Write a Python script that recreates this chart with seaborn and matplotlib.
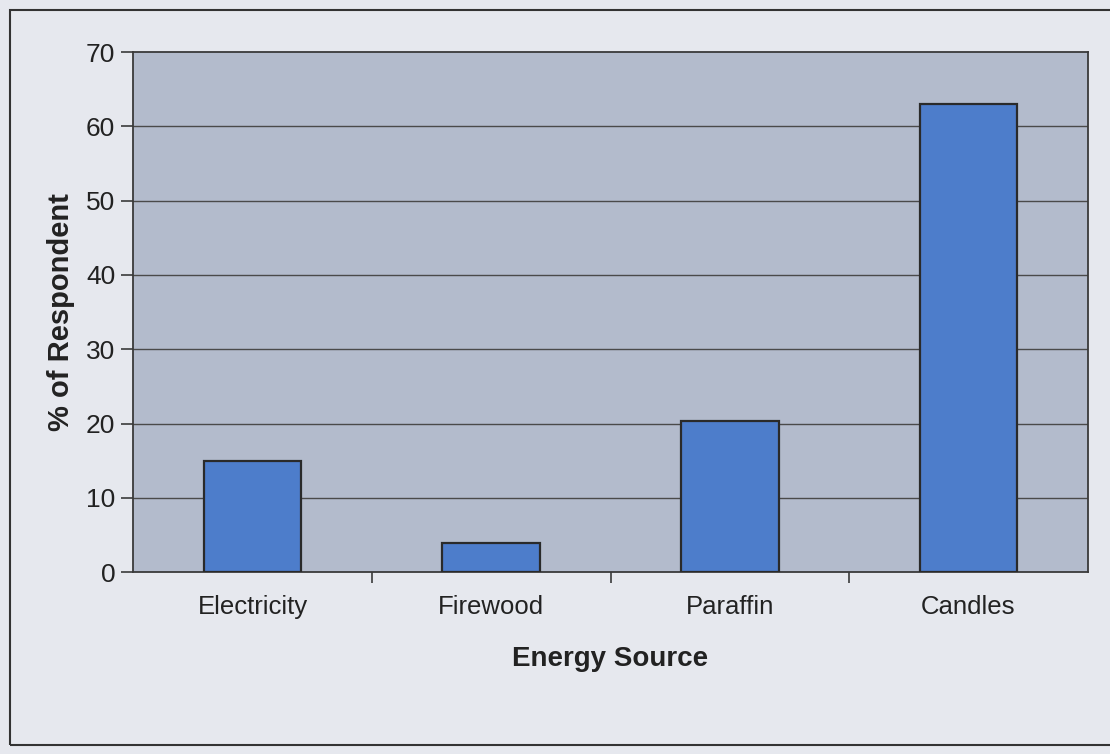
import numpy as np
import pandas as pd
import seaborn as sns
import matplotlib.pyplot as plt
from matplotlib.patches import Rectangle

# valores
fontes = ['Electricity', 'Firewood', 'Paraffin', 'Candles']
percentual = [15.0, 4.0, 20.3, 63.0]
ticks_y = [0, 10, 20, 30, 40, 50, 60, 70]

df = pd.DataFrame({'fonte': fontes, 'perc': percentual})

sns.set_style('white')
plt.rcParams['font.family'] = ['Liberation Sans', 'DejaVu Sans']

fig = plt.figure(figsize=(11.1, 7.54), dpi=100)
fig.patch.set_facecolor('#e6e8ee')
ax = fig.add_axes([0.12, 0.241, 0.86, 0.69])
ax.set_facecolor('#b3bbcc')

sns.barplot(x='fonte', y='perc', data=df, color='#4d7dcb', saturation=1,
            width=0.41, edgecolor='#2a2a2a', linewidth=1.6, zorder=3, ax=ax)

ax.set_ylim(0, 70)
ax.set_yticks(ticks_y)
ax.set_xlim(-0.5, 3.5)
for v in ticks_y[1:-1]:
    ax.axhline(v, color='#4a4a4a', lw=1.0, zorder=1)

for s in ax.spines.values():
    s.set_color('#3a3a3a')
    s.set_linewidth(1.3)

ax.tick_params(axis='y', direction='out', length=9, width=1.2, color='#3a3a3a',
               labelsize=19, labelcolor='#222222', pad=4, left=True)
ax.tick_params(axis='x', which='major', length=0, labelsize=18.5,
               labelcolor='#222222', pad=16)
ax.set_xticks([0.5, 1.5, 2.5], minor=True)
ax.tick_params(axis='x', which='minor', direction='out', length=8, width=1.2,
               color='#3a3a3a', bottom=True)

ax.set_xlabel('Energy Source', fontsize=20, fontweight='bold', color='#222222',
              labelpad=20)
ax.set_ylabel('% of Respondent', fontsize=21, fontweight='bold', color='#222222',
              labelpad=8)

# moldura externa
fig.patches.append(Rectangle((0.009, 0.012), 1.2, 0.975, transform=fig.transFigure,
                             fill=False, edgecolor='#333333', linewidth=1.5))

plt.savefig('out.png', dpi=100, facecolor=fig.get_facecolor())
